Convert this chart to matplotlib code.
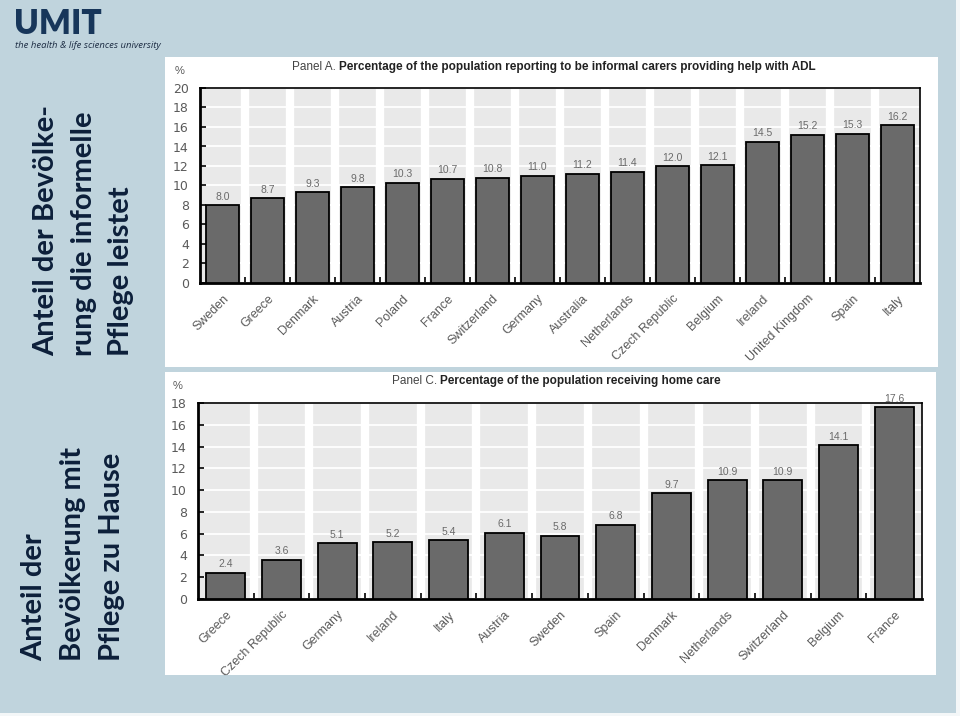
import numpy as np
import matplotlib
matplotlib.use('Agg')
import matplotlib.pyplot as plt
from matplotlib.patches import Rectangle

# Data
countries_a = ['Sweden', 'Greece', 'Denmark', 'Austria', 'Poland', 'France',
               'Switzerland', 'Germany', 'Australia', 'Netherlands',
               'Czech Republic', 'Belgium', 'Ireland', 'United Kingdom',
               'Spain', 'Italy']
values_a = [8.0, 8.7, 9.3, 9.8, 10.3, 10.7, 10.8, 11.0, 11.2, 11.4,
            12.0, 12.1, 14.5, 15.2, 15.3, 16.2]

countries_c = ['Greece', 'Czech Republic', 'Germany', 'Ireland', 'Italy',
               'Austria', 'Sweden', 'Spain', 'Denmark', 'Netherlands',
               'Switzerland', 'Belgium', 'France']
values_c = [2.4, 3.6, 5.1, 5.2, 5.4, 6.1, 5.8, 6.8, 9.7, 10.9, 10.9, 14.1, 17.6]

title_a = 'Percentage of the population reporting to be informal carers providing help with ADL'
title_c = 'Percentage of the population receiving home care'
side_a = 'Anteil der Bevölke-\nrung die informelle\nPflege leistet'
side_c = 'Anteil der\nBevölkerung mit\nPflege zu Hause'

W, H = 960, 716
BG = '#c0d4dd'
NAVY = '#0c1f3a'
sans = ['Liberation Sans', 'DejaVu Sans']

fig = plt.figure(figsize=(W / 100, H / 100), dpi=100)
fig.patch.set_facecolor(BG)


def rect(x, y, w, h):
    # pixel box (top-left origin) -> figure fraction
    return [x / W, 1 - (y + h) / H, w / W, h / H]


def fx(x):
    return x / W


def fy(y):
    return 1 - y / H


# thin white edge on right and bottom
fig.patches.append(Rectangle((fx(956), 0), 1, 1, transform=fig.transFigure,
                             facecolor='#f4f7f8', edgecolor='none', zorder=-5))
fig.patches.append(Rectangle((0, 0), 1, fy(713), transform=fig.transFigure,
                             facecolor='#f4f7f8', edgecolor='none', zorder=-5))

# white panel boxes
for (x, y, w, h) in [(165, 57, 773, 310), (165, 372, 771, 303)]:
    bx = fig.add_axes(rect(x, y, w, h))
    bx.set_facecolor('white')
    bx.set_xticks([])
    bx.set_yticks([])
    for s in bx.spines.values():
        s.set_visible(False)


def panel(box, names, vals, ymax, width, label, title, ty, tx0):
    ax = fig.add_axes(rect(*box))
    ax.set_facecolor('#e9e9e9')
    n = len(names)
    x = np.arange(n)
    ax.bar(x, vals, width=width, color='#6a6a6a', edgecolor='black',
           linewidth=1.3, zorder=3)
    for xi, v in zip(x, vals):
        ax.annotate('%.1f' % v, (xi, v), xytext=(0, 2.5), textcoords='offset points',
                    ha='center', va='bottom', fontsize=7.5, color='#6a6a6a',
                    family=sans, zorder=4)
    ax.set_xlim(-0.5, n - 0.5)
    ax.set_ylim(0, ymax)
    ax.set_yticks(np.arange(0, ymax + 1, 2))
    ax.set_xticks(x)
    ax.set_xticklabels(names, rotation=45, ha='right', rotation_mode='anchor',
                       fontsize=9, color='#5a5a5a', family=sans)
    ax.set_xticks(np.arange(0.5, n - 0.5, 1), minor=True)
    ax.tick_params(axis='x', which='major', length=0, pad=7)
    ax.tick_params(axis='x', which='minor', direction='in', length=4, width=1.2)
    ax.tick_params(axis='y', direction='in', length=4, width=1.2,
                   labelsize=9, labelcolor='#5a5a5a', pad=8)
    ax.grid(axis='y', color='white', linewidth=1.3, zorder=1)
    ax.grid(axis='x', which='minor', color='white', linewidth=6, zorder=1)
    for s in ax.spines.values():
        s.set_color('black')
        s.set_linewidth(1.2)
    ax.spines['left'].set_linewidth(2)
    ax.spines['bottom'].set_linewidth(2)
    # % label
    fig.text(fx(box[0] - 20), fy(box[1] - 17), '%', fontsize=8, color='#5a5a5a',
             ha='center', va='center', family=sans)
    # title: "Panel X." plain, rest bold
    fig.text(fx(tx0), fy(ty), label, fontsize=8.5, color='#444444',
             ha='right', va='center', family=sans)
    fig.text(fx(tx0 + 3), fy(ty), title, fontsize=8.5, color='#222222',
             ha='left', va='center', family=sans, weight='bold')
    return ax


panel((200, 88, 720, 195), countries_a, values_a, 20, 0.75,
      'Panel A.', title_a, 67, 336)
panel((198, 403, 724, 196), countries_c, values_c, 18, 0.7,
      'Panel C.', title_c, 381, 437)

# side captions
fig.text(fx(33), fy(356), side_a, rotation=90, ha='left', va='bottom',
         multialignment='left', fontsize=21, weight='bold', color=NAVY,
         family=['Lato', 'DejaVu Sans'], linespacing=1.55)
fig.text(fx(21), fy(661), side_c, rotation=90, ha='left', va='bottom',
         multialignment='left', fontsize=21, weight='bold', color=NAVY,
         family=['Lato', 'DejaVu Sans'], linespacing=1.62)

# logo
fig.text(fx(14), fy(24), 'UMIT', fontsize=24, weight='heavy', color='#17365a',
         ha='left', va='center', family=['Lato', 'DejaVu Sans'])
fig.text(fx(15), fy(46), 'the health & life sciences university', fontsize=6.8,
         style='italic', color='#1d2d44', ha='left', va='center',
         family=['Open Sans', 'DejaVu Sans'])

fig.savefig('out.png', dpi=100, facecolor=fig.get_facecolor())
